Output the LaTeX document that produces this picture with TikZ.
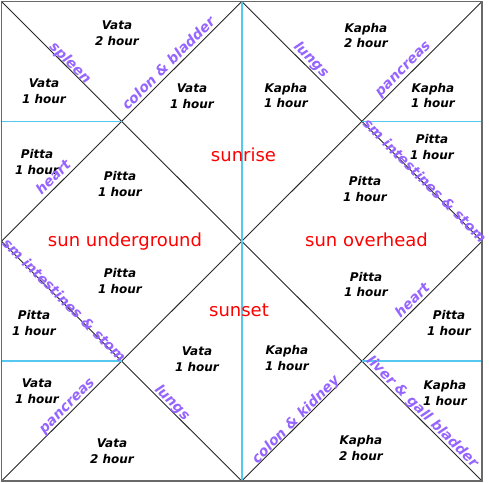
\documentclass[tikz,border=0pt]{standalone}
\usepackage{fontspec}
\setmainfont{DejaVu Sans}[BoldFont={DejaVu Sans Bold},ItalicFont={DejaVu Sans Oblique},BoldItalicFont={DejaVu Sans Bold Oblique}]
\definecolor{organ}{RGB}{150,100,255}
\definecolor{guide}{RGB}{85,200,240}
\definecolor{framegray}{RGB}{105,105,105}
\definecolor{sunred}{RGB}{255,0,0}
\tikzset{
  dosha/.style={font=\fontsize{12}{15.8}\selectfont\bfseries\itshape,align=center,inner sep=0pt,text=black},
  organlbl/.style={font=\fontsize{14}{16}\selectfont\bfseries\itshape,text=organ,inner sep=0pt},
  sunlbl/.style={font=\fontsize{18}{20}\selectfont,text=sunred,inner sep=0pt},
  diag/.style={draw=black!85,line width=0.9pt},
  guideline/.style={draw=guide,line width=1.6pt},
  vguideline/.style={draw=guide,line width=1.8pt},
  outer/.style={draw=framegray,line width=1.8pt}
}
\begin{document}
\begin{tikzpicture}[x=1pt,y=-1pt]
\useasboundingbox (0,0) rectangle (489,482);
% corners, midpoints, crossings
\coordinate (A) at (1.5,1.5);
\coordinate (B) at (482,1.5);
\coordinate (C) at (482,481);
\coordinate (D) at (1.5,481);
\coordinate (T) at (241.75,1.5);
\coordinate (R) at (482,241.25);
\coordinate (Bm) at (241.75,481);
\coordinate (L) at (1.5,241.25);
\coordinate (Q1) at (121.6,121.4);
\coordinate (Q2) at (361.9,121.4);
\coordinate (Q3) at (121.6,361.1);
\coordinate (Q4) at (361.9,361.1);
\coordinate (H1) at (1.5,121.4);
\coordinate (H2) at (482,121.4);
\coordinate (H3) at (1.5,361.1);
\coordinate (H4) at (482,361.1);
% diagonals and diamond
\draw[diag] (A) -- (C);
\draw[diag] (B) -- (D);
\draw[diag] (T) -- (R) -- (Bm) -- (L) -- cycle;
% guide lines
\draw[vguideline] (T) -- (Bm);
\draw[guideline] (H1) -- (Q1);
\draw[guideline] (Q2) -- (H2);
\draw[guideline] (H3) -- (Q3);
\draw[guideline] (Q4) -- (H4);
% frame
\draw[outer] (A) rectangle (C);
% dosha labels
\node[dosha] (v2t) at (117,33.5) {Vata\\2 hour};
\node[dosha] (v1a) at (44,91.5) {Vata\\1 hour};
\node[dosha] (v1b) at (192,96) {Vata\\1 hour};
\node[dosha] (k2t) at (366,35.5) {Kapha\\2 hour};
\node[dosha] (k1a) at (286,95.5) {Kapha\\1 hour};
\node[dosha] (k1b) at (433,95.5) {Kapha\\1 hour};
\node[dosha] (p1) at (432,147) {Pitta\\1 hour};
\node[dosha] (p2) at (37,162) {Pitta\\1 hour};
\node[dosha] (p3) at (120,184) {Pitta\\1 hour};
\node[dosha] (p4) at (120,281) {Pitta\\1 hour};
\node[dosha] (p5) at (34,323) {Pitta\\1 hour};
\node[dosha] (p6) at (365,189) {Pitta\\1 hour};
\node[dosha] (p7) at (366,284.5) {Pitta\\1 hour};
\node[dosha] (p8) at (449,323) {Pitta\\1 hour};
\node[dosha] (v1c) at (37,391) {Vata\\1 hour};
\node[dosha] (v2b) at (112,451) {Vata\\2 hour};
\node[dosha] (v1d) at (197,359) {Vata\\1 hour};
\node[dosha] (k1c) at (287,358) {Kapha\\1 hour};
\node[dosha] (k2b) at (361,448) {Kapha\\2 hour};
\node[dosha] (k1d) at (445,393) {Kapha\\1 hour};
% sun labels
\node[sunlbl] (sunrise) at (243.5,155) {sunrise};
\node[sunlbl] (sunset) at (239,310) {sunset};
\node[sunlbl] (under) at (125,242) {sun underground};
\node[sunlbl] (over) at (366.5,240) {sun overhead};
% organ labels
\node[organlbl,rotate=-45] (spleen) at (70,63) {spleen};
\node[organlbl,rotate=45] (colbl) at (168,63) {colon \& bladder};
\node[organlbl,rotate=-45] (lungsT) at (311,60) {lungs};
\node[organlbl,rotate=45] (pancT) at (404,70) {pancreas};
\node[organlbl,rotate=-45] (smR) at (425,180.5) {sm intestines \& stom};
\node[organlbl,rotate=45] (heartL) at (53,177) {heart};
\node[organlbl,rotate=-45] (smL) at (64.5,300) {sm intestines \& stom};
\node[organlbl,rotate=45] (heartR) at (412,300) {heart};
\node[organlbl,rotate=45] (pancB) at (68,407) {pancreas};
\node[organlbl,rotate=-45] (lungsB) at (172,403) {lungs};
\node[organlbl,rotate=45] (colk) at (296,420) {colon \& kidney};
\node[organlbl,rotate=-45] (liver) at (422,412) {liver \& gall bladder};
\end{tikzpicture}
\end{document}
